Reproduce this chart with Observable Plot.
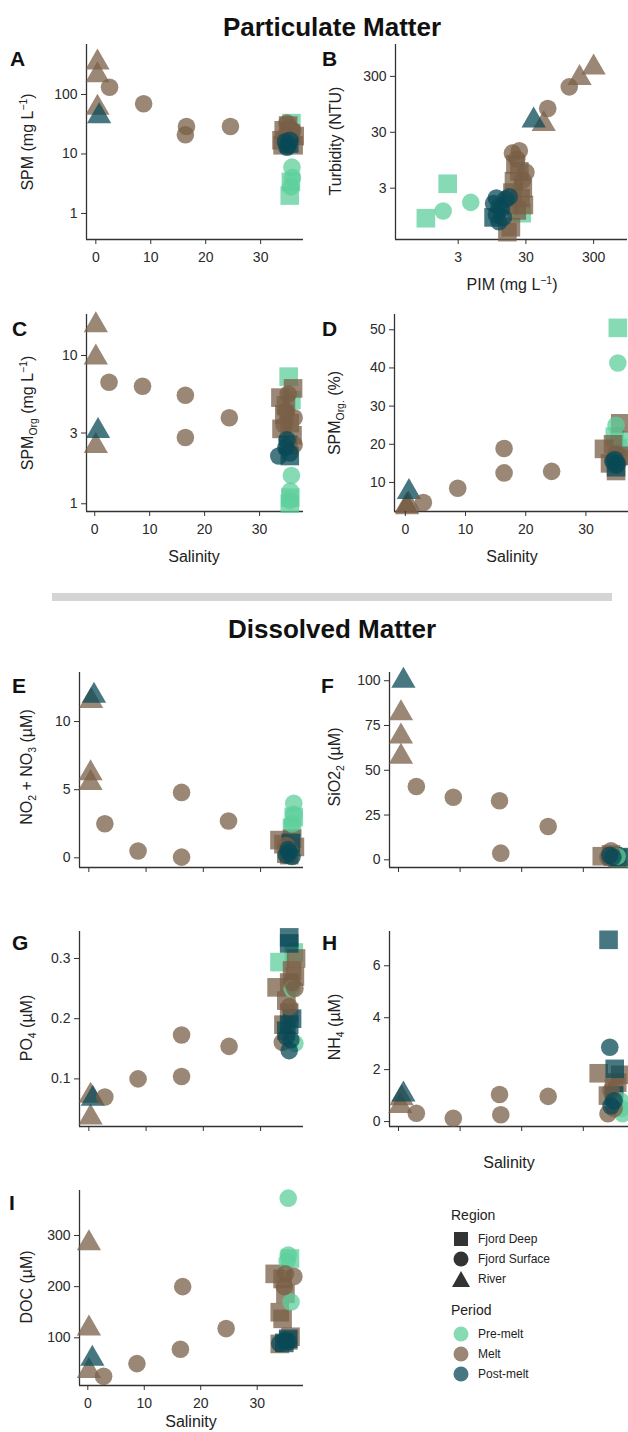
<!DOCTYPE html>
<html><head><meta charset="utf-8">
<script src="https://cdn.jsdelivr.net/npm/d3@7"></script>
<script src="https://cdn.jsdelivr.net/npm/@observablehq/plot@0.6"></script>
<style>
body{margin:0;background:#fff;}
#root{position:relative;width:628px;height:1432px;overflow:hidden;font-family:"Liberation Sans",Arial,sans-serif;color:#1a1a1a;}
.abs{position:absolute;white-space:nowrap;line-height:1;}
.title{font-weight:bold;font-size:26px;transform:translate(-50%,-50%);color:#111;}
.letter{font-weight:bold;font-size:21px;transform:translate(0,-50%);color:#111;}
.ylab{font-size:16px;transform:translate(-50%,-50%) rotate(-90deg);color:#222;}
.xlab{font-size:16px;transform:translate(-50%,-50%);color:#222;}
sub,sup{font-size:65%;line-height:0;}
.legt{font-size:14px;transform:translate(0,-50%);color:#222;}
.legi{font-size:12px;transform:translate(0,-50%);color:#222;}
</style></head><body><div id="root"></div>
<script>
// ---------- categories ----------
const regions = ["Fjord Deep", "Fjord Surface", "River"];
const periods = ["Pre-melt", "Melt", "Post-melt"];
const periodColors = ["#5dcf9c", "#7a5f47", "#0a4a57"];
const REGION = {D: "Fjord Deep", S: "Fjord Surface", R: "River"};
const PERIOD = {pre: "Pre-melt", melt: "Melt", post: "Post-melt"};

// ---------- data: [x, y, region, period] ----------
// A: Salinity vs SPM (mg/L)
const spmData = [
  [35.6,33,"D","pre"],[35.3,2.0,"D","pre"],[35.5,3.4,"D","pre"],[35.7,6.0,"S","pre"],[35.8,4.0,"S","pre"],[35.5,2.8,"S","pre"],
  [0.3,345,"R","melt"],[0.3,210,"R","melt"],[0.3,60,"R","melt"],
  [2.5,132,"S","melt"],[8.7,70,"S","melt"],[16.5,29,"S","melt"],[16.3,21,"S","melt"],[24.5,29,"S","melt"],
  [33.8,17,"D","melt"],[34.2,25,"D","melt"],[35.0,30,"D","melt"],[36.2,20,"D","melt"],[36.0,14,"D","melt"],[34.0,14,"D","melt"],[35.5,22,"D","melt"],
  [34.8,33,"S","melt"],[35.2,27,"S","melt"],[34.5,20,"S","melt"],[35.8,25,"S","melt"],
  [0.6,43,"R","post"],[35.2,15,"D","post"],[34.5,16,"S","post"],[35.0,14,"S","post"],[35.3,17,"S","post"],[34.8,13,"S","post"]
];
// B: PIM (mg/L) vs Turbidity (NTU)
const turbData = [
  [1.0,0.87,"D","pre"],[2.1,3.6,"D","pre"],[26,1.07,"D","pre"],[1.8,1.17,"S","pre"],[4.6,1.67,"S","pre"],
  [186,280,"R","melt"],[300,435,"R","melt"],[55,42,"R","melt"],
  [16,0.49,"D","melt"],[18,0.6,"D","melt"],[22,1.2,"D","melt"],[25,2.0,"D","melt"],[20,4.0,"D","melt"],[24,6.0,"D","melt"],
  [27,3.0,"D","melt"],[21,8.0,"D","melt"],[19,2.5,"D","melt"],[28,1.5,"D","melt"],[17,1.5,"D","melt"],
  [131,195,"S","melt"],[63,80,"S","melt"],[19,12.7,"S","melt"],[24,14,"S","melt"],[30,5.8,"S","melt"],[27,4.2,"S","melt"],[22,10,"S","melt"],
  [39,49,"R","post"],[10,0.9,"D","post"],
  [10,1.6,"S","post"],[11,1.0,"S","post"],[12,0.75,"S","post"],[13,1.3,"S","post"],[15,1.9,"S","post"],[17,2.1,"S","post"],[11,2.0,"S","post"],[14,0.9,"S","post"],[12,1.4,"S","post"]
];
// C: Salinity vs SPM_Org (mg/L)
const spmOrgData = [
  [35.3,7.2,"D","pre"],[35.5,1.0,"D","pre"],[35.6,1.1,"D","pre"],[35.8,5.0,"D","pre"],[35.8,1.55,"S","pre"],[35.6,1.22,"S","pre"],[35.5,1.05,"S","pre"],
  [0.2,16,"R","melt"],[0.2,9.7,"R","melt"],[0.2,2.45,"R","melt"],
  [2.6,6.6,"S","melt"],[8.7,6.2,"S","melt"],[16.5,5.4,"S","melt"],[16.5,2.8,"S","melt"],[24.5,3.8,"S","melt"],
  [36.1,6.0,"D","melt"],[33.8,5.2,"D","melt"],[34.5,4.0,"D","melt"],[35.5,3.5,"D","melt"],[34.0,3.2,"D","melt"],[36.0,2.9,"D","melt"],[34.8,4.6,"D","melt"],
  [35.2,5.5,"S","melt"],[34.8,4.2,"S","melt"],[36.3,3.8,"S","melt"],[36.3,2.5,"S","melt"],[34.5,3.4,"S","melt"],
  [0.6,3.1,"R","post"],[35.5,2.1,"D","post"],[35.2,2.5,"D","post"],[33.5,2.1,"S","post"],[35.0,2.7,"S","post"],[34.8,2.4,"S","post"],[35.5,2.2,"S","post"]
];
// D: Salinity vs SPM_Org (%)
const spmOrgPctData = [
  [35.3,50.5,"D","pre"],[34.8,22,"D","pre"],[35.6,21,"D","pre"],[35.3,19,"D","pre"],[35.3,41.3,"S","pre"],[35.0,25.0,"S","pre"],
  [0.2,3.8,"R","melt"],[0.5,4.3,"R","melt"],[0.3,3.5,"R","melt"],
  [3.0,4.75,"S","melt"],[8.7,8.5,"S","melt"],[16.4,18.9,"S","melt"],[16.4,12.5,"S","melt"],[24.3,12.9,"S","melt"],
  [35.7,25.5,"D","melt"],[33.0,18.8,"D","melt"],[34.0,15,"D","melt"],[35.0,13,"D","melt"],[36.0,17,"D","melt"],[34.5,20,"D","melt"],
  [35.0,17.5,"S","melt"],[36.2,16.5,"S","melt"],[34.5,16,"S","melt"],
  [0.6,7.5,"R","post"],[35.0,14,"D","post"],[34.5,15.5,"S","post"],[35.0,14.5,"S","post"],[34.8,16,"S","post"],[35.2,15,"S","post"]
];
// E: Salinity vs NO2+NO3 (µM)
const noxData = [
  [35.5,2.2,"D","pre"],[35.8,3.0,"D","pre"],[35.8,4.0,"S","pre"],[35.8,3.2,"S","pre"],[35.5,2.5,"S","pre"],
  [0.4,11.5,"R","melt"],[0.3,6.2,"R","melt"],[0.3,5.5,"R","melt"],
  [2.8,2.5,"S","melt"],[8.6,0.5,"S","melt"],[16.2,4.8,"S","melt"],[16.2,0.05,"S","melt"],[24.4,2.7,"S","melt"],
  [33.3,1.3,"D","melt"],[34.0,1.0,"D","melt"],[35.5,1.4,"D","melt"],[36.0,0.8,"D","melt"],[34.5,0.3,"D","melt"],[35.0,0.2,"D","melt"],
  [35.0,0.5,"S","melt"],[34.5,0.9,"S","melt"],
  [0.9,11.9,"R","post"],[35.3,1.1,"D","post"],[34.5,0.2,"S","post"],[35.0,0.4,"S","post"],[35.5,0.1,"S","post"],[34.8,0.6,"S","post"]
];
// F: Salinity vs SiO2 (µM)
const sioData = [
  [35.8,1.0,"D","pre"],[35.5,2.0,"S","pre"],
  [0.4,81.8,"R","melt"],[0.4,68.8,"R","melt"],[0.4,57.6,"R","melt"],
  [2.9,40.9,"S","melt"],[8.9,34.9,"S","melt"],[16.4,33,"S","melt"],[16.6,3.7,"S","melt"],[24.3,18.6,"S","melt"],
  [33.0,2.0,"D","melt"],[35.5,1.0,"D","melt"],[34.5,3.0,"D","melt"],[34.5,5.0,"S","melt"],[34.0,1.5,"S","melt"],
  [0.8,100,"R","post"],[34.8,2.0,"D","post"],[35.8,1.5,"D","post"],[34.8,1.5,"S","post"],[34.3,2.5,"S","post"]
];
// G: Salinity vs PO4 (µM)
const po4Data = [
  [33.3,0.294,"D","pre"],[35.8,0.31,"D","pre"],[36.0,0.159,"S","pre"],[35.5,0.25,"S","pre"],
  [0.3,0.072,"R","melt"],[0.3,0.036,"R","melt"],
  [2.8,0.070,"S","melt"],[8.6,0.100,"S","melt"],[16.2,0.104,"S","melt"],[16.2,0.173,"S","melt"],[24.5,0.154,"S","melt"],
  [32.8,0.252,"D","melt"],[34.5,0.23,"D","melt"],[35.5,0.28,"D","melt"],[36.2,0.30,"D","melt"],[35.0,0.21,"D","melt"],
  [34.0,0.19,"D","melt"],[35.0,0.26,"D","melt"],[36.0,0.27,"D","melt"],
  [35.5,0.26,"S","melt"],[36.0,0.25,"S","melt"],[33.8,0.161,"S","melt"],[35.0,0.22,"S","melt"],
  [0.7,0.067,"R","post"],[35.0,0.335,"D","post"],[35.0,0.325,"D","post"],[35.0,0.19,"D","post"],[35.5,0.20,"D","post"],[34.5,0.18,"D","post"],
  [34.5,0.17,"S","post"],[35.0,0.147,"S","post"],[35.3,0.165,"S","post"]
];
// H: Salinity vs NH4 (µM)
const nh4Data = [
  [36.4,0.3,"S","pre"],[36.2,0.5,"S","pre"],[36.0,0.8,"S","pre"],
  [0.3,0.6,"R","melt"],[0.5,0.9,"R","melt"],
  [2.9,0.32,"S","melt"],[8.9,0.13,"S","melt"],[16.4,1.04,"S","melt"],[16.6,0.26,"S","melt"],[24.3,0.97,"S","melt"],
  [32.5,1.86,"D","melt"],[35.5,1.5,"D","melt"],[34.0,1.0,"D","melt"],[36.0,1.8,"D","melt"],[35.0,1.3,"D","melt"],
  [34.0,0.3,"S","melt"],[35.0,0.5,"S","melt"],[34.5,1.2,"S","melt"],
  [0.8,1.04,"R","post"],[34.1,7.0,"D","post"],[35.1,2.03,"D","post"],[35.0,1.0,"D","post"],
  [34.3,2.86,"S","post"],[34.5,0.6,"S","post"],[35.0,0.8,"S","post"]
];
// I: Salinity vs DOC (µM)
const docData = [
  [35.8,255,"D","pre"],[35.5,373,"S","pre"],[35.5,262,"S","pre"],[35.3,250,"S","pre"],[36.0,170,"S","pre"],
  [0.2,285,"R","melt"],[0.2,118,"R","melt"],[0.2,35,"R","melt"],
  [2.8,24.6,"S","melt"],[8.7,49.5,"S","melt"],[16.4,77.7,"S","melt"],[16.8,200,"S","melt"],[24.5,118,"S","melt"],
  [33.1,225,"D","melt"],[34.5,215,"D","melt"],[35.0,186,"D","melt"],[34.0,150,"D","melt"],[34.5,137,"D","melt"],
  [35.9,102,"D","melt"],[35.5,95,"D","melt"],[34.0,88,"D","melt"],
  [36.5,220,"S","melt"],[35.0,225,"S","melt"],[34.8,200,"S","melt"],
  [0.8,59,"R","post"],[35.5,98,"D","post"],[34.8,90,"D","post"],[34.0,89,"S","post"],[35.0,95,"S","post"],[35.5,92,"S","post"]
];

// ---------- tick values ----------
const salTicks = [0, 10, 20, 30];
const spmTicks = [1, 10, 100];
const pimTicks = [3, 30, 300];
const turbTicks = [3, 30, 300];
const spmOrgTicks = [1, 3, 10];
const pctTicks = [10, 20, 30, 40, 50];
const noxTicks = [0, 5, 10];
const sioTicks = [0, 25, 50, 75, 100];
const po4Ticks = [0.1, 0.2, 0.3];
const nh4Ticks = [0, 2, 4, 6];
const docTicks = [100, 200, 300];

const FONT = '"Liberation Sans", Arial, sans-serif';
const root = document.getElementById("root");
const SIZE = {"Fjord Deep": 10.5, "Fjord Surface": 8.8, "River": 9};

function build(rows) {
  return rows.map(([x, y, r, p]) => ({x, y, region: REGION[r], period: PERIOD[p]}));
}

function makePanel(p) {
  const ML = 60, MR = 14, MT = 14, MB = 40;
  const fx = p.xLabels ? (d => String(d)) : (() => "");
  const fy = p.yFormat || (d => String(d));
  const svg = Plot.plot({
    width: p.r - p.l + ML + MR,
    height: p.b - p.t + MT + MB,
    marginLeft: ML, marginRight: MR, marginTop: MT, marginBottom: MB,
    style: {fontFamily: FONT, fontSize: "14px", color: "#333", background: "transparent", overflow: "visible"},
    x: {type: p.xType || "linear", domain: p.xDomain},
    y: {type: p.yType || "linear", domain: p.yDomain},
    r: {type: "linear", domain: [0, 10], range: [0, 10]},
    symbol: {domain: regions, range: ["square", "circle", "triangle"]},
    color: {domain: periods, range: periodColors},
    marks: [
      Plot.ruleX([p.xDomain[0]], {stroke: "#333", strokeWidth: 1.3}),
      Plot.ruleY([p.yDomain[0]], {stroke: "#333", strokeWidth: 1.3}),
      Plot.dot(build(p.data), {x: "x", y: "y", symbol: "region", fill: "period",
        r: d => SIZE[d.region], fillOpacity: 0.75}),
      Plot.axisX(p.xTicks, {tickSize: 5, label: null, tickFormat: () => ""}),
      Plot.axisY(p.yTicks, {tickSize: 5, label: null, tickFormat: () => ""}),
      Plot.text(p.xTicks, {x: d => d, frameAnchor: "bottom", lineAnchor: "top", dy: 13,
        text: fx, fontSize: 14, fill: "#2a2a2a"}),
      Plot.text(p.yTicks, {y: d => d, frameAnchor: "left", textAnchor: "end", dx: -9,
        text: fy, fontSize: 14, fill: "#2a2a2a"})
    ]
  });
  svg.style.position = "absolute";
  svg.style.left = (p.l - ML) + "px";
  svg.style.top = (p.t - MT) + "px";
  root.appendChild(svg);
}

function text(cls, x, y, html) {
  const d = document.createElement("div");
  d.className = "abs " + cls;
  d.style.left = x + "px";
  d.style.top = y + "px";
  d.innerHTML = html;
  root.appendChild(d);
}

makePanel({data: spmData, l: 86, r: 303, t: 44, b: 239, xDomain: [-1.7, 37.8], yType: "log", yDomain: [0.365, 692], xTicks: salTicks, yTicks: spmTicks, xLabels: true});
makePanel({data: turbData, l: 395, r: 627, t: 44, b: 239, xType: "log", xDomain: [0.356, 949], yType: "log", yDomain: [0.362, 1117], xTicks: pimTicks, yTicks: turbTicks, xLabels: true});
makePanel({data: spmOrgData, l: 86, r: 303, t: 314, b: 511, xDomain: [-1.5, 38.0], yType: "log", yDomain: [0.887, 18.9], xTicks: salTicks, yTicks: spmOrgTicks, xLabels: true});
makePanel({data: spmOrgPctData, l: 394, r: 630, t: 314, b: 511, xDomain: [-1.8, 37.4], yDomain: [2.39, 54.0], xTicks: salTicks, yTicks: pctTicks, xLabels: true});
makePanel({data: noxData, l: 79, r: 303, t: 672, b: 867, xDomain: [-1.63, 37.5], yDomain: [-0.71, 13.6], xTicks: salTicks, yTicks: noxTicks, xLabels: false});
makePanel({data: sioData, l: 389, r: 629, t: 672, b: 867, xDomain: [-1.46, 37.5], yDomain: [-4.3, 104.6], xTicks: salTicks, yTicks: sioTicks, xLabels: false});
makePanel({data: po4Data, l: 79, r: 303, t: 931, b: 1126, xDomain: [-1.63, 37.5], yDomain: [0.0209, 0.3448], xTicks: salTicks, yTicks: po4Ticks, xLabels: false, yFormat: d3.format(".1f")});
makePanel({data: nh4Data, l: 389, r: 629, t: 931, b: 1126, xDomain: [-1.46, 37.5], yDomain: [-0.19, 7.32], xTicks: salTicks, yTicks: nh4Ticks, xLabels: false});
makePanel({data: docData, l: 79, r: 303, t: 1190, b: 1385, xDomain: [-1.47, 38.2], yDomain: [6.7, 388], xTicks: salTicks, yTicks: docTicks, xLabels: true});

// titles
text("title", 332, 27, "Particulate Matter");
text("title", 332, 629, "Dissolved Matter");
// separator
const sep = document.createElement("div");
sep.style.cssText = "position:absolute;left:52px;top:593px;width:560px;height:8px;background:#d4d4d4;";
root.appendChild(sep);

// panel letters
[["A",10,57.5],["B",322,57.5],["C",12,327.5],["D",322,327.5],["E",12,685],["F",321,685],["G",12,942],["H",322,942],["I",9,1202]]
  .forEach(([t, x, y]) => text("letter", x, y, t));

// y labels
text("ylab", 28, 142, "SPM (mg L<sup>−1</sup>)");
text("ylab", 336, 141, "Turbidity (NTU)");
text("ylab", 28, 413, "SPM<sub>Org</sub> (mg L<sup>−1</sup>)");
text("ylab", 335, 413, "SPM<sub>Org.</sub> (%)");
text("ylab", 27, 767, "NO<sub>2</sub> + NO<sub>3</sub> (µM)");
text("ylab", 335, 767, "SiO2<sub>2</sub> (µM)");
text("ylab", 27, 1028, "PO<sub>4</sub> (µM)");
text("ylab", 335, 1027, "NH<sub>4</sub> (µM)");
text("ylab", 27, 1287, "DOC (µM)");
// x labels
text("xlab", 512, 285, "PIM (mg L<sup>−1</sup>)");
text("xlab", 194, 557, "Salinity");
text("xlab", 512, 557, "Salinity");
text("xlab", 509, 1163, "Salinity");
text("xlab", 191, 1422, "Salinity");

// legend
text("legt", 451, 1215, "Region");
const regY = [1239, 1258.5, 1279];
const regShapes = [
  '<rect x="1" y="1" width="14" height="14" fill="#333"/>',
  '<circle cx="8" cy="8" r="7.5" fill="#333"/>',
  '<path d="M8 0 L17 16 L-1 16 Z" fill="#333"/>'
];
regions.forEach((r, i) => {
  const d = document.createElement("div");
  d.style.cssText = `position:absolute;left:${461-8}px;top:${regY[i]-8}px;width:16px;height:16px;`;
  d.innerHTML = `<svg width="18" height="17" style="overflow:visible">${regShapes[i]}</svg>`;
  root.appendChild(d);
  text("legi", 478, regY[i], r);
});
text("legt", 451, 1310, "Period");
const perY = [1334, 1354, 1374];
periods.forEach((p, i) => {
  const d = document.createElement("div");
  d.style.cssText = `position:absolute;left:${461-8}px;top:${perY[i]-8}px;width:16px;height:16px;`;
  d.innerHTML = `<svg width="16" height="16"><circle cx="8" cy="8" r="7.5" fill="${periodColors[i]}" fill-opacity="0.75"/></svg>`;
  root.appendChild(d);
  text("legi", 478, perY[i], p);
});
</script>
</body></html>
